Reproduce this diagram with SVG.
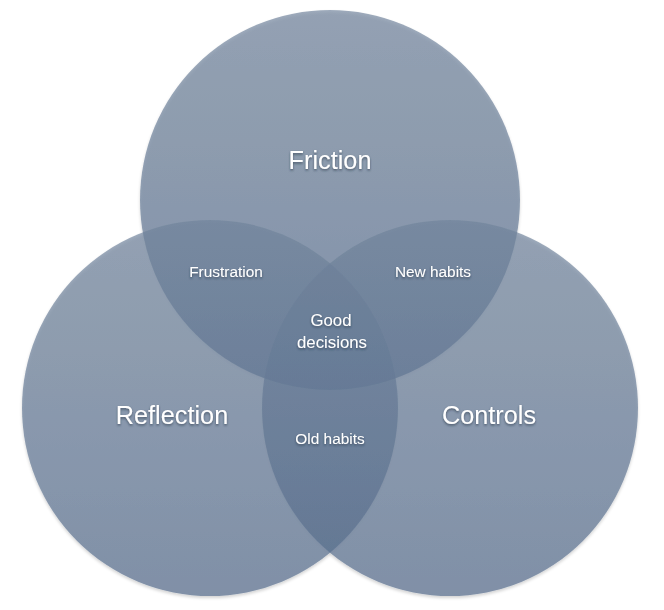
<svg xmlns="http://www.w3.org/2000/svg" width="664" height="610" viewBox="0 0 664 610">
<defs>
<linearGradient id="g" x1="0" y1="0" x2="0" y2="1">
<stop offset="0" stop-color="#71849c"/>
<stop offset="1" stop-color="#556c8c"/>
</linearGradient>
<filter id="soft" x="-10%" y="-10%" width="120%" height="120%">
<feGaussianBlur in="SourceAlpha" stdDeviation="1.5"/>
<feOffset dy="1.5" result="b"/>
<feFlood flood-color="#000" flood-opacity="0.25"/>
<feComposite in2="b" operator="in" result="s"/>
<feMerge><feMergeNode in="s"/><feMergeNode in="SourceGraphic"/></feMerge>
</filter>
<filter id="ts" x="-20%" y="-30%" width="140%" height="160%">
<feDropShadow dx="0" dy="1.5" stdDeviation="1.2" flood-color="#1e2a3c" flood-opacity="0.6"/>
</filter>
</defs>
<style>
.c{fill:url(#g);fill-opacity:0.68;}
.big{font-family:"Liberation Sans",Arial,sans-serif;font-size:25.3px;fill:#fff;text-anchor:middle;filter:url(#ts);}
.sm{font-family:"Liberation Sans",Arial,sans-serif;font-size:15.4px;fill:#fff;text-anchor:middle;filter:url(#ts);}
.md{font-family:"Liberation Sans",Arial,sans-serif;font-size:16.8px;fill:#fff;text-anchor:middle;filter:url(#ts);}
</style>
<g id="circles" filter="url(#soft)">
<circle id="friction-circle" class="c" cx="330" cy="200" r="190"/>
<circle id="reflection-circle" class="c" cx="210" cy="408" r="188"/>
<circle id="controls-circle" class="c" cx="450" cy="408" r="188"/>
</g>
<g id="connectors"/>
<g id="friction"><text class="big" x="330" y="169">Friction</text></g>
<g id="reflection"><text class="big" x="172" y="424">Reflection</text></g>
<g id="controls"><text class="big" x="489" y="424">Controls</text></g>
<g id="frustration"><text class="sm" x="226" y="277">Frustration</text></g>
<g id="new-habits"><text class="sm" x="433" y="277">New habits</text></g>
<g id="good-decisions"><text class="md" x="331" y="326">Good</text><text class="md" x="332" y="348">decisions</text></g>
<g id="old-habits"><text class="sm" x="330" y="444">Old habits</text></g>
</svg>
